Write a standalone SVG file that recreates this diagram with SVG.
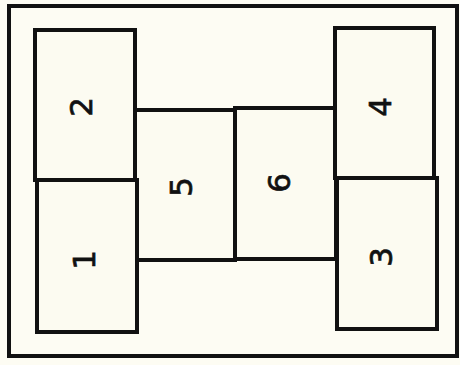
<svg xmlns="http://www.w3.org/2000/svg" width="460" height="365" viewBox="0 0 460 365">
<style>
.box{fill:#fcfbf1;stroke:#111;stroke-width:4;stroke-linejoin:miter}
.lbl{font-family:"DejaVu Sans",sans-serif;font-size:31px;fill:#111;stroke:#111;stroke-width:0.7;text-anchor:middle}
</style>
<rect x="0" y="0" width="460" height="365" fill="#fdfcf3"/>
<rect id="frame" x="9" y="6" width="448" height="350" fill="#fdfcf3" stroke="#111" stroke-width="4"/>
<g id="connectors"></g>
<g id="n5"><rect class="box" x="135" y="110" width="100" height="150"/><text class="lbl" transform="translate(181,187) rotate(-90)" y="11">5</text></g>
<g id="n6"><rect class="box" x="235" y="108" width="101" height="151"/><text class="lbl" transform="translate(279,183) rotate(-90)" y="11">6</text></g>
<g id="n2"><rect class="box" x="35" y="30" width="100" height="150"/><text class="lbl" transform="translate(81,107) rotate(-90)" y="11">2</text></g>
<g id="n1"><rect class="box" x="37" y="180" width="100" height="152"/><text class="lbl" transform="translate(84,260) rotate(-90)" y="11">1</text></g>
<g id="n4"><rect class="box" x="335" y="28" width="99" height="150"/><text class="lbl" transform="translate(380,107) rotate(-90)" y="11">4</text></g>
<g id="n3"><rect class="box" x="337" y="178" width="100" height="151"/><text class="lbl" transform="translate(381,257) rotate(-90)" y="11">3</text></g>
</svg>
